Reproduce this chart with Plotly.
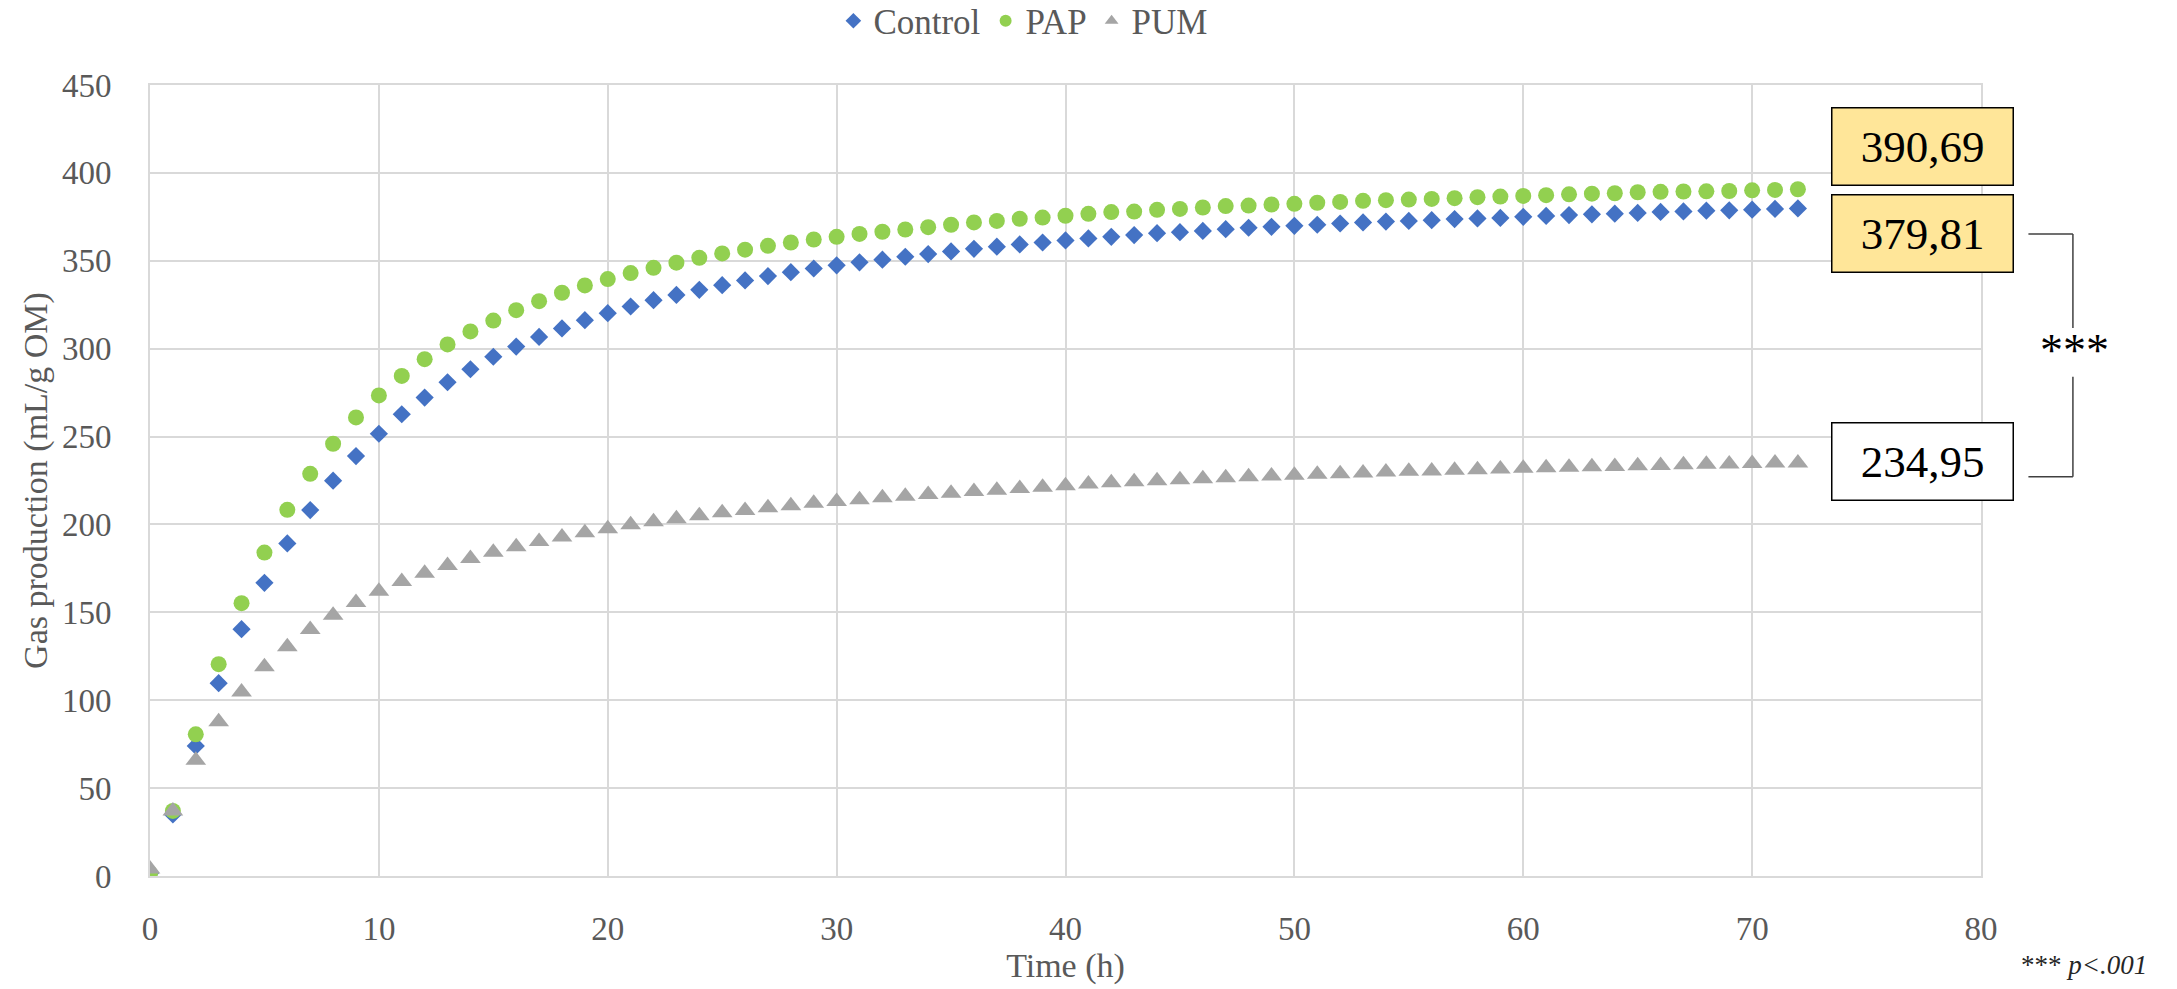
import plotly.graph_objects as go

hours = list(range(0, 73))

control = [1.5, 35, 74, 109.7, 140.4, 166.8, 189.2, 208.2, 224.9, 238.9,
           251.6, 262.7, 272.2, 280.9, 288.3, 295.4, 301.2, 306.7, 311.5, 316.2,
           320.2, 324.0, 327.6, 330.6, 333.5, 336.1, 338.8, 341.3, 343.5, 345.6,
           347.4, 349.1, 350.6, 352.3, 353.8, 355.3, 356.8, 358.0, 359.3, 360.4,
           361.6, 362.7, 363.6, 364.6, 365.7, 366.3, 367.0, 368.0, 368.8, 369.3,
           369.9, 370.5, 371.2, 371.8, 372.3, 372.7, 373.1, 373.7, 374.1, 374.4,
           375.0, 375.5, 376.0, 376.4, 376.8, 377.2, 377.8, 378.1, 378.5, 378.7,
           379.1, 379.5, 379.81]

pap = [1.5, 37, 80.6, 120.5, 155.2, 184.0, 208.3, 228.8, 245.9, 260.9,
       273.4, 284.5, 294.0, 302.4, 309.8, 316.0, 321.9, 327.0, 331.8, 336.0,
       339.6, 343.0, 346.0, 348.9, 351.7, 354.2, 356.3, 358.5, 360.4, 362.1,
       363.6, 365.3, 366.5, 367.8, 369.1, 370.5, 371.8, 372.7, 373.9, 374.6,
       375.6, 376.7, 377.7, 378.0, 379.0, 379.5, 380.3, 381.1, 381.4, 382.0,
       382.4, 383.0, 383.5, 384.1, 384.5, 384.8, 385.2, 385.6, 386.2, 386.5,
       386.9, 387.3, 387.8, 388.2, 388.4, 389.0, 389.2, 389.4, 389.5, 389.7,
       390.1, 390.3, 390.69]

pum = [4, 37, 65.8, 87.7, 104.7, 119.0, 130.4, 140.2, 148.4, 155.6,
       162.0, 167.5, 172.3, 176.6, 180.6, 184.2, 187.3, 190.3, 192.8, 195.3,
       197.5, 199.8, 201.6, 203.3, 205.0, 206.7, 208.0, 209.5, 210.7, 212.0,
       213.1, 214.1, 215.2, 216.1, 217.0, 217.8, 218.7, 219.5, 220.4, 221.1,
       222.0, 223.0, 223.7, 224.3, 224.9, 225.4, 226.0, 226.6, 227.1, 227.5,
       228.0, 228.5, 228.9, 229.2, 229.8, 230.2, 230.4, 230.8, 231.1, 231.5,
       231.9, 232.2, 232.5, 232.8, 233.0, 233.4, 233.6, 234.0, 234.2, 234.4,
       234.7, 234.9, 234.95]

final_labels = ["390,69", "379,81", "234,95"]
label_y = [415.2, 365.5, 235.9]
label_fill = ["#FFE699", "#FFE699", "#FFFFFF"]

FONT = "'Liberation Serif', 'Times New Roman', serif"
TICK_COLOR = "#595959"
GRID = "#D9D9D9"

fig = go.Figure()
fig.add_trace(go.Scatter(x=hours, y=control, mode="markers", name="Control",
                         marker=dict(symbol="diamond", size=14, color="#4472C4")))
fig.add_trace(go.Scatter(x=hours, y=pap, mode="markers", name="PAP",
                         marker=dict(symbol="circle", size=16, color="#92D050")))
fig.add_trace(go.Scatter(x=hours, y=pum, mode="markers", name="PUM",
                         marker=dict(symbol="triangle-up", size=18, color="#A5A5A5")))

for txt, yv, fill in zip(final_labels, label_y, label_fill):
    fig.add_annotation(x=77.43, y=yv, xref="x", yref="y", text=txt, showarrow=False,
                       font=dict(family=FONT, size=45, color="#000000"),
                       bgcolor=fill, bordercolor="#000000", borderwidth=1.5,
                       borderpad=2, width=176, height=72, align="center", valign="middle")

# significance bracket
bx0, bx1 = 1.0259, 1.0502
for (x0, y0, x1, y1) in [(bx0, 0.8116, bx1, 0.8116), (bx1, 0.8116, bx1, 0.6927),
                         (bx1, 0.6311, bx1, 0.5046), (bx1, 0.5046, bx0, 0.5046)]:
    fig.add_shape(type="line", xref="paper", yref="paper", x0=x0, y0=y0, x1=x1, y1=y1,
                  line=dict(color="#404040", width=1.5))
fig.add_annotation(x=1.051, y=0.664, xref="paper", yref="paper", text="***",
                   showarrow=False, font=dict(family=FONT, size=46, color="#000000"),
                   xanchor="center", yanchor="middle")
fig.add_annotation(x=1.092, y=-0.112, xref="paper", yref="paper",
                   text="*** <i>p&lt;.001</i>", showarrow=False,
                   font=dict(family=FONT, size=27, color="#262626"),
                   xanchor="right", yanchor="middle")

fig.update_layout(
    width=2177, height=989,
    margin=dict(l=150, r=196, t=85, b=113, autoexpand=False),
    paper_bgcolor="white", plot_bgcolor="white",
    font=dict(family=FONT, color=TICK_COLOR),
    showlegend=True,
    legend=dict(orientation="h", x=0.477, xanchor="center", y=1.081, yanchor="middle",
                font=dict(family=FONT, size=35, color=TICK_COLOR),
                itemsizing="constant", bgcolor="rgba(0,0,0,0)", tracegroupgap=0),
    xaxis=dict(range=[0, 80], dtick=10, tick0=0, showgrid=True, gridcolor=GRID, gridwidth=2,
               zeroline=False, showline=True, mirror=True, linecolor=GRID, linewidth=2,
               ticks="outside", ticklen=22, tickcolor="rgba(0,0,0,0)",
               tickfont=dict(family=FONT, size=33, color=TICK_COLOR),
               title=dict(text="Time (h)", font=dict(family=FONT, size=34, color=TICK_COLOR), standoff=8),
               automargin=False),
    yaxis=dict(range=[0, 450], dtick=50, tick0=0, showgrid=True, gridcolor=GRID, gridwidth=2,
               zeroline=False, showline=True, mirror=True, linecolor=GRID, linewidth=2,
               ticks="outside", ticklen=30, tickcolor="rgba(0,0,0,0)",
               tickfont=dict(family=FONT, size=33, color=TICK_COLOR),
               title=dict(text="Gas production (mL/g OM)", font=dict(family=FONT, size=34, color=TICK_COLOR), standoff=4),
               automargin=False),
)

fig.write_html("out.html")
